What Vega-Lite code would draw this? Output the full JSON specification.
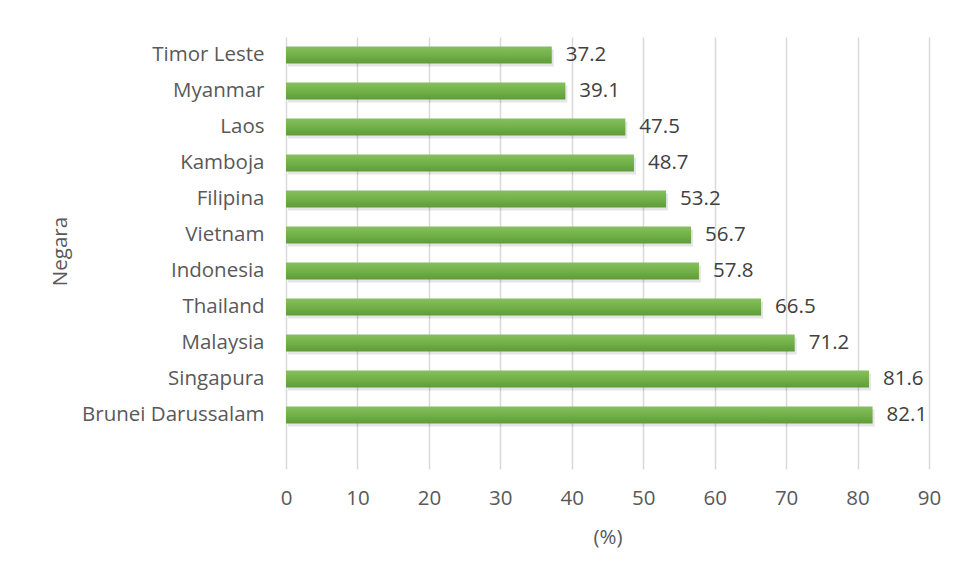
{
  "$schema": "https://vega.github.io/schema/vega-lite/v6.json",
  "autosize": {"type": "none"},
  "width": 643,
  "height": 432,
  "padding": {"left": 286, "top": 37, "right": 30, "bottom": 110},
  "background": "white",
  "config": {
    "font": "Open Sans",
    "view": {"stroke": null},
    "axis": {"labelFont": "Open Sans", "titleFont": "Open Sans", "labelColor": "#595959", "titleColor": "#595959", "titleFontWeight": "normal"}
  },
  "data": {
    "values": [
      {"negara": "Timor Leste", "nilai": 37.2},
      {"negara": "Myanmar", "nilai": 39.1},
      {"negara": "Laos", "nilai": 47.5},
      {"negara": "Kamboja", "nilai": 48.7},
      {"negara": "Filipina", "nilai": 53.2},
      {"negara": "Vietnam", "nilai": 56.7},
      {"negara": "Indonesia", "nilai": 57.8},
      {"negara": "Thailand", "nilai": 66.5},
      {"negara": "Malaysia", "nilai": 71.2},
      {"negara": "Singapura", "nilai": 81.6},
      {"negara": "Brunei Darussalam", "nilai": 82.1}
    ]
  },
  "encoding": {
    "y": {
      "field": "negara", "type": "nominal",
      "scale": {"domain": ["Timor Leste", "Myanmar", "Laos", "Kamboja", "Filipina", "Vietnam", "Indonesia", "Thailand", "Malaysia", "Singapura", "Brunei Darussalam", " "], "paddingInner": 0.53, "paddingOuter": 0.265},
      "axis": {"title": "Negara", "domain": false, "ticks": false, "labelFontSize": 20.5, "labelLimit": 400, "labelPadding": 22, "titleFontSize": 20.5, "titleX": -226, "titleY": 214, "titleAngle": -90, "titleBaseline": "middle", "titleAlign": "center"}
    },
    "x": {
      "field": "nilai", "type": "quantitative",
      "scale": {"domain": [0, 90], "nice": false},
      "axis": {"title": "(%)", "values": [0,10,20,30,40,50,60,70,80,90], "labelFlush": false, "domain": false, "ticks": false, "grid": true, "gridColor": "#d9d9d9", "gridWidth": 1.5, "labelFontSize": 20.5, "labelPadding": 19, "titleFontSize": 20.5, "titleY": 68, "titleBaseline": "middle"}
    }
  },
  "layer": [
    {
      "mark": {"type": "bar", "color": "#000000", "opacity": 0.1, "yOffset": 3, "xOffset": 2},
      "encoding": {}
    },
    {
      "mark": {"type": "bar", "color": {"gradient": "linear", "x1": 0, "y1": 0, "x2": 0, "y2": 1, "stops": [{"offset": 0, "color": "#85c05c"}, {"offset": 0.5, "color": "#72b04a"}, {"offset": 1, "color": "#5e9c37"}]}},
      "encoding": {}
    },
    {
      "mark": {"type": "text", "align": "left", "baseline": "middle", "dx": 14, "fontSize": 20.5, "color": "#404040", "font": "Open Sans"},
      "encoding": {"text": {"field": "nilai", "type": "quantitative", "format": ".1f"}}
    }
  ]
}
